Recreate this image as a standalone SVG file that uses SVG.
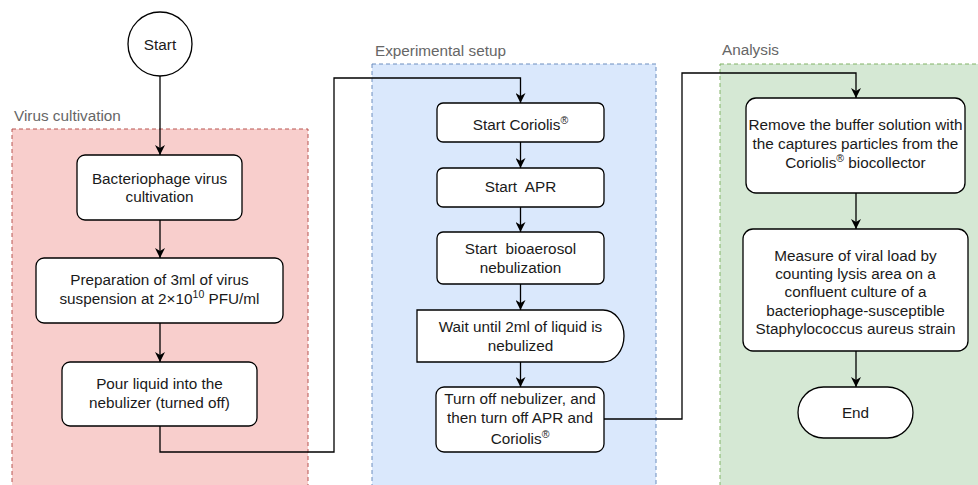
<svg xmlns="http://www.w3.org/2000/svg" width="978" height="485" viewBox="0 0 978 485">
<defs>
<style>
.t{font-family:"Liberation Sans",Arial,sans-serif;font-size:15.3px;fill:#1a1a1a;text-anchor:middle;white-space:pre}
.lbl{font-family:"Liberation Sans",Arial,sans-serif;font-size:15.3px;fill:#666;white-space:pre}
.box{fill:#fff;stroke:#000;stroke-width:1.3}
.c{fill:none;stroke:#000;stroke-width:1.3}
.sup{font-size:10.5px}
</style>
<marker id="ar" viewBox="0 0 10 10" refX="10" refY="5" markerWidth="10" markerHeight="10" markerUnits="userSpaceOnUse" orient="auto">
<path d="M0,0 L10,5 L0,10 L3,5 z" fill="#000"/>
</marker>
</defs>
<rect width="978" height="485" fill="#fff"/>
<g id="virus-cultivation">
<rect x="12" y="129" width="296" height="360" fill="#f8cecc" stroke="#b85450" stroke-dasharray="4 3"/>
<text class="lbl" x="14" y="121">Virus cultivation</text>
</g>
<g id="experimental-setup">
<rect x="372" y="64" width="284" height="425" fill="#dae8fc" stroke="#6c8ebf" stroke-dasharray="4 3"/>
<text class="lbl" x="375" y="56">Experimental setup</text>
</g>
<g id="analysis">
<rect x="720" y="64" width="262" height="425" fill="#d5e8d4" stroke="#82b366" stroke-dasharray="4 3"/>
<text class="lbl" x="722" y="55">Analysis</text>
</g>
<g id="connectors">
<path class="c" d="M160,76 V155" marker-end="url(#ar)"/>
<path class="c" d="M160,220 V258" marker-end="url(#ar)"/>
<path class="c" d="M160,323 V362" marker-end="url(#ar)"/>
<path class="c" d="M160,426 V452 H334 V78 H520.5 V103" marker-end="url(#ar)"/>
<path class="c" d="M520.5,142 V168" marker-end="url(#ar)"/>
<path class="c" d="M520.5,207 V232" marker-end="url(#ar)"/>
<path class="c" d="M520.5,284 V310" marker-end="url(#ar)"/>
<path class="c" d="M520.5,362 V387" marker-end="url(#ar)"/>
<path class="c" d="M604,419 H682 V73 H856 V98" marker-end="url(#ar)"/>
<path class="c" d="M856,193 V229" marker-end="url(#ar)"/>
<path class="c" d="M856,351 V387" marker-end="url(#ar)"/>
</g>
<g id="start">
<circle class="box" cx="160" cy="44" r="32"/>
<text class="t" x="160" y="50">Start</text>
</g>
<g id="bacteriophage">
<rect class="box" x="77" y="155" width="165" height="65" rx="8"/>
<text class="t" x="159.5" y="184">Bacteriophage virus</text>
<text class="t" x="159.5" y="202">cultivation</text>
</g>
<g id="preparation">
<rect class="box" x="36" y="258" width="247" height="65" rx="8"/>
<text class="t" x="159.5" y="285">Preparation of 3ml of virus</text>
<text class="t" x="159.5" y="304">suspension at 2×10<tspan class="sup" dy="-6">10</tspan><tspan dy="6"> PFU/ml</tspan></text>
</g>
<g id="pour">
<rect class="box" x="62" y="362" width="195" height="64" rx="8"/>
<text class="t" x="159.5" y="389">Pour liquid into the</text>
<text class="t" x="159.5" y="408">nebulizer (turned off)</text>
</g>
<g id="start-coriolis">
<rect class="box" x="437" y="103" width="167" height="39" rx="6"/>
<text class="t" x="520.5" y="130">Start Coriolis<tspan class="sup" dy="-6">®</tspan></text>
</g>
<g id="start-apr">
<rect class="box" x="437" y="168" width="167" height="39" rx="6"/>
<text class="t" x="520.5" y="192">Start  APR</text>
</g>
<g id="start-bioaerosol">
<rect class="box" x="437" y="232" width="167" height="52" rx="6"/>
<text class="t" x="520.5" y="254">Start  bioaerosol</text>
<text class="t" x="520.5" y="273">nebulization</text>
</g>
<g id="wait">
<path class="box" d="M417,310 H603 A21,26 0 0 1 603,362 H417 Z"/>
<text class="t" x="520.5" y="332">Wait until 2ml of liquid is</text>
<text class="t" x="520.5" y="351">nebulized</text>
</g>
<g id="turn-off">
<rect class="box" x="436" y="387" width="168" height="65" rx="8"/>
<text class="t" x="520" y="404">Turn off nebulizer, and</text>
<text class="t" x="520" y="423">then turn off APR and</text>
<text class="t" x="520" y="444">Coriolis<tspan class="sup" dy="-6">®</tspan></text>
</g>
<g id="remove">
<rect class="box" x="746" y="98" width="219" height="95" rx="10"/>
<text class="t" x="855.5" y="130">Remove the buffer solution with</text>
<text class="t" x="855.5" y="149">the captures particles from the</text>
<text class="t" x="855.5" y="168">Coriolis<tspan class="sup" dy="-6">®</tspan><tspan dy="6"> biocollector</tspan></text>
</g>
<g id="measure">
<rect class="box" x="743" y="229" width="225" height="122" rx="10"/>
<text class="t" x="855.5" y="261">Measure of viral load by</text>
<text class="t" x="855.5" y="279">counting lysis area on a</text>
<text class="t" x="855.5" y="297">confluent culture of a</text>
<text class="t" x="855.5" y="316">bacteriophage-susceptible</text>
<text class="t" x="855.5" y="334">Staphylococcus aureus strain</text>
</g>
<g id="end">
<rect class="box" x="798" y="387" width="115" height="51" rx="25.5"/>
<text class="t" x="855.5" y="418">End</text>
</g>
</svg>
